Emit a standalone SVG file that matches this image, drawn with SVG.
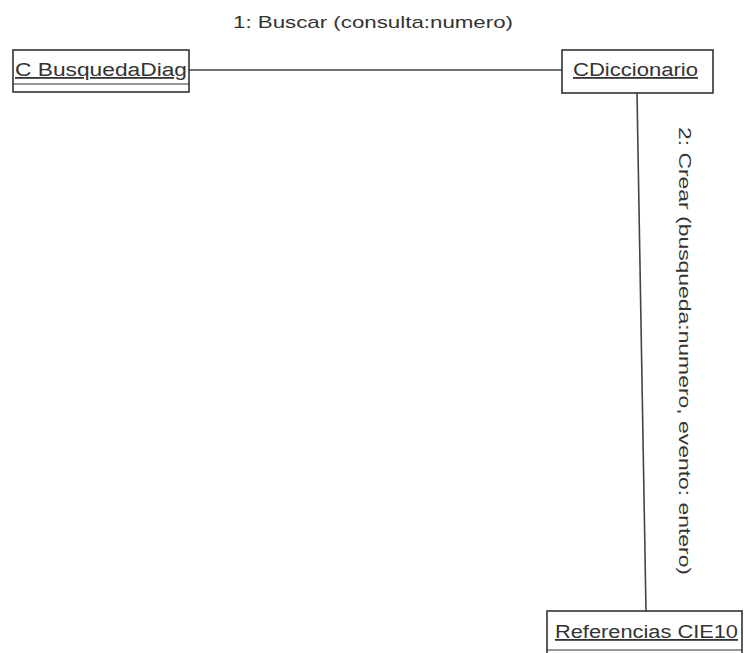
<svg xmlns="http://www.w3.org/2000/svg" width="744" height="653" viewBox="0 0 744 653">
  <style>
    .obj { fill: #ffffff; stroke: #333333; stroke-width: 1.6; }
    .sep { stroke: #333333; stroke-width: 1.2; }
    .name { font-family: "Liberation Sans", Arial, sans-serif; font-size: 18px; fill: #333333; text-decoration: underline; }
    .msg { font-family: "Liberation Sans", Arial, sans-serif; font-size: 17px; fill: #333333; }
    .link { stroke: #444444; stroke-width: 1.6; fill: none; }
  </style>
  <rect width="744" height="653" fill="#ffffff"/>

  <g id="connectors">
    <line class="link" x1="189" y1="70" x2="562" y2="70"/>
    <line class="link" x1="637" y1="93" x2="646" y2="611"/>
    <text class="msg" x="233" y="28" textLength="280" lengthAdjust="spacingAndGlyphs">1: Buscar (consulta:numero)</text>
    <text class="msg" transform="translate(679,127) rotate(90)" x="0" y="0" textLength="448" lengthAdjust="spacingAndGlyphs">2: Crear (busqueda:numero, evento: entero)</text>
  </g>

  <g id="busquedaDiag">
    <rect class="obj" x="13" y="50" width="176" height="42"/>
    <line class="sep" x1="13" y1="84" x2="189" y2="84"/>
    <text class="name" x="15" y="76" textLength="172" lengthAdjust="spacingAndGlyphs">C BusquedaDiag</text>
  </g>

  <g id="diccionario">
    <rect class="obj" x="562" y="50" width="151" height="43"/>
    <text class="name" x="573" y="76" textLength="125" lengthAdjust="spacingAndGlyphs">CDiccionario</text>
  </g>

  <g id="referencias">
    <rect class="obj" x="547" y="611" width="195" height="50"/>
    <line class="sep" x1="547" y1="650" x2="742" y2="650"/>
    <text class="name" x="555" y="638" textLength="183" lengthAdjust="spacingAndGlyphs">Referencias CIE10</text>
  </g>
</svg>
